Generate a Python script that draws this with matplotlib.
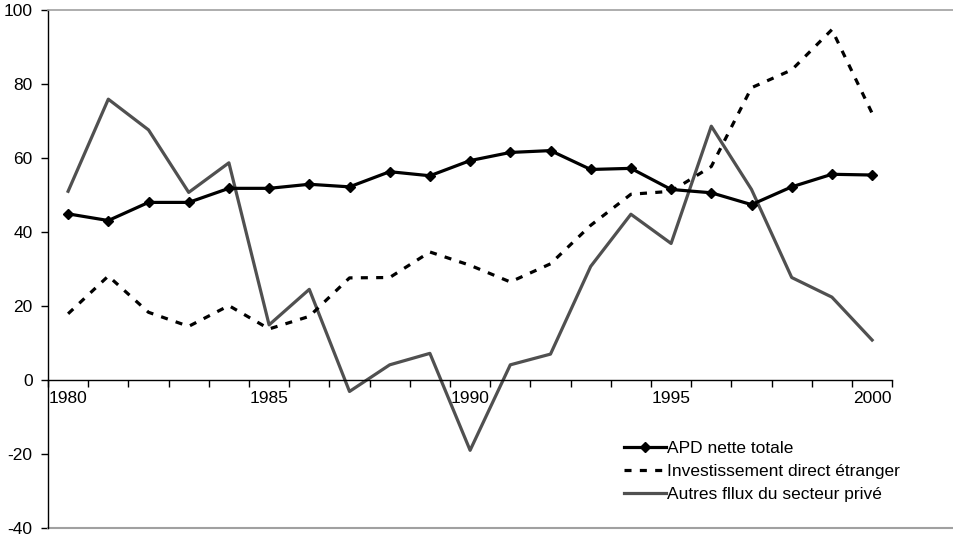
import numpy as np
import matplotlib
matplotlib.use("Agg")
import matplotlib.pyplot as plt

plt.rcParams['font.family'] = ['Liberation Sans', 'DejaVu Sans']
plt.rcParams['axes.unicode_minus'] = False

# Years on the category axis
years = list(range(1980, 2001))
year_labels = ['1980', '1985', '1990', '1995', '2000']

# APD nette totale
apd = [44.9, 43.1, 48.0, 48.0, 51.8, 51.8, 52.9, 52.2, 56.3, 55.2, 59.3,
       61.5, 62.0, 56.9, 57.2, 51.5, 50.6, 47.4, 52.2, 55.6, 55.4]
# Investissement direct etranger
ide = [17.9, 28.1, 18.3, 14.5, 20.1, 13.8, 17.2, 27.6, 27.7, 34.6, 31.0,
       26.5, 31.4, 41.8, 50.2, 51.0, 57.7, 79.0, 83.8, 94.7, 72.1]
# Autres flux du secteur prive
autres = [51.0, 75.9, 67.6, 50.7, 58.7, 14.9, 24.5, -3.1, 4.1, 7.2, -19.0,
          4.1, 7.0, 30.7, 44.8, 36.9, 68.6, 51.5, 27.7, 22.4, 10.8]

labels = ['APD nette totale', 'Investissement direct étranger',
          'Autres fllux du secteur privé']

fig = plt.figure(figsize=(9.54, 5.38), dpi=100)
ax = fig.add_axes([48 / 954, 10 / 538, 906 / 954, 518 / 538])

x = np.arange(len(years))
ax.plot(x, apd, color='black', lw=2.3, marker='D', markersize=5.5,
        label=labels[0], zorder=4)
ax.plot(x, ide, color='black', lw=2.3, dashes=(2.2, 2.6),
        label=labels[1], zorder=3)
ax.plot(x, autres, color='#505050', lw=2.3, label=labels[2], zorder=2)

ax.set_ylim(-40, 100)
ax.set_xlim(-0.5, -0.5 + 906 / 40.2)
ax.set_yticks(np.arange(-40, 101, 20))
ax.tick_params(axis='y', direction='out', length=5, width=1, pad=6,
               labelsize=12.5, colors='black')

# category axis sitting on zero, ticks between categories
ax.spines['bottom'].set_position(('data', 0))
ax.spines['bottom'].set_bounds(-0.5, 20.5)
ax.spines['bottom'].set_color('black')
ax.spines['bottom'].set_linewidth(1)
ax.set_xticks(np.arange(-0.5, 21, 1))
ax.set_xticklabels([])
ax.set_xticks([0, 5, 10, 15, 20], minor=True)
ax.set_xticklabels(year_labels, minor=True)
ax.tick_params(axis='x', which='major', direction='out', length=5, width=1)
ax.tick_params(axis='x', which='minor', length=0, pad=8, labelsize=12.5)

ax.spines['left'].set_color('black')
ax.spines['left'].set_linewidth(1)
ax.spines['right'].set_visible(False)
ax.spines['top'].set_color('#a0a0a0')
ax.spines['top'].set_linewidth(1.2)
ax.axhline(-40, color='#a0a0a0', lw=1.5, clip_on=False)

ax.legend(loc='upper left', bbox_to_anchor=(624 / 954, (538 - 441) / 538),
          bbox_transform=fig.transFigure, frameon=False, fontsize=12.5,
          handlelength=2.4, handletextpad=0.1, borderpad=0,
          borderaxespad=0, labelspacing=0.45)

fig.savefig('out.png', dpi=100)
